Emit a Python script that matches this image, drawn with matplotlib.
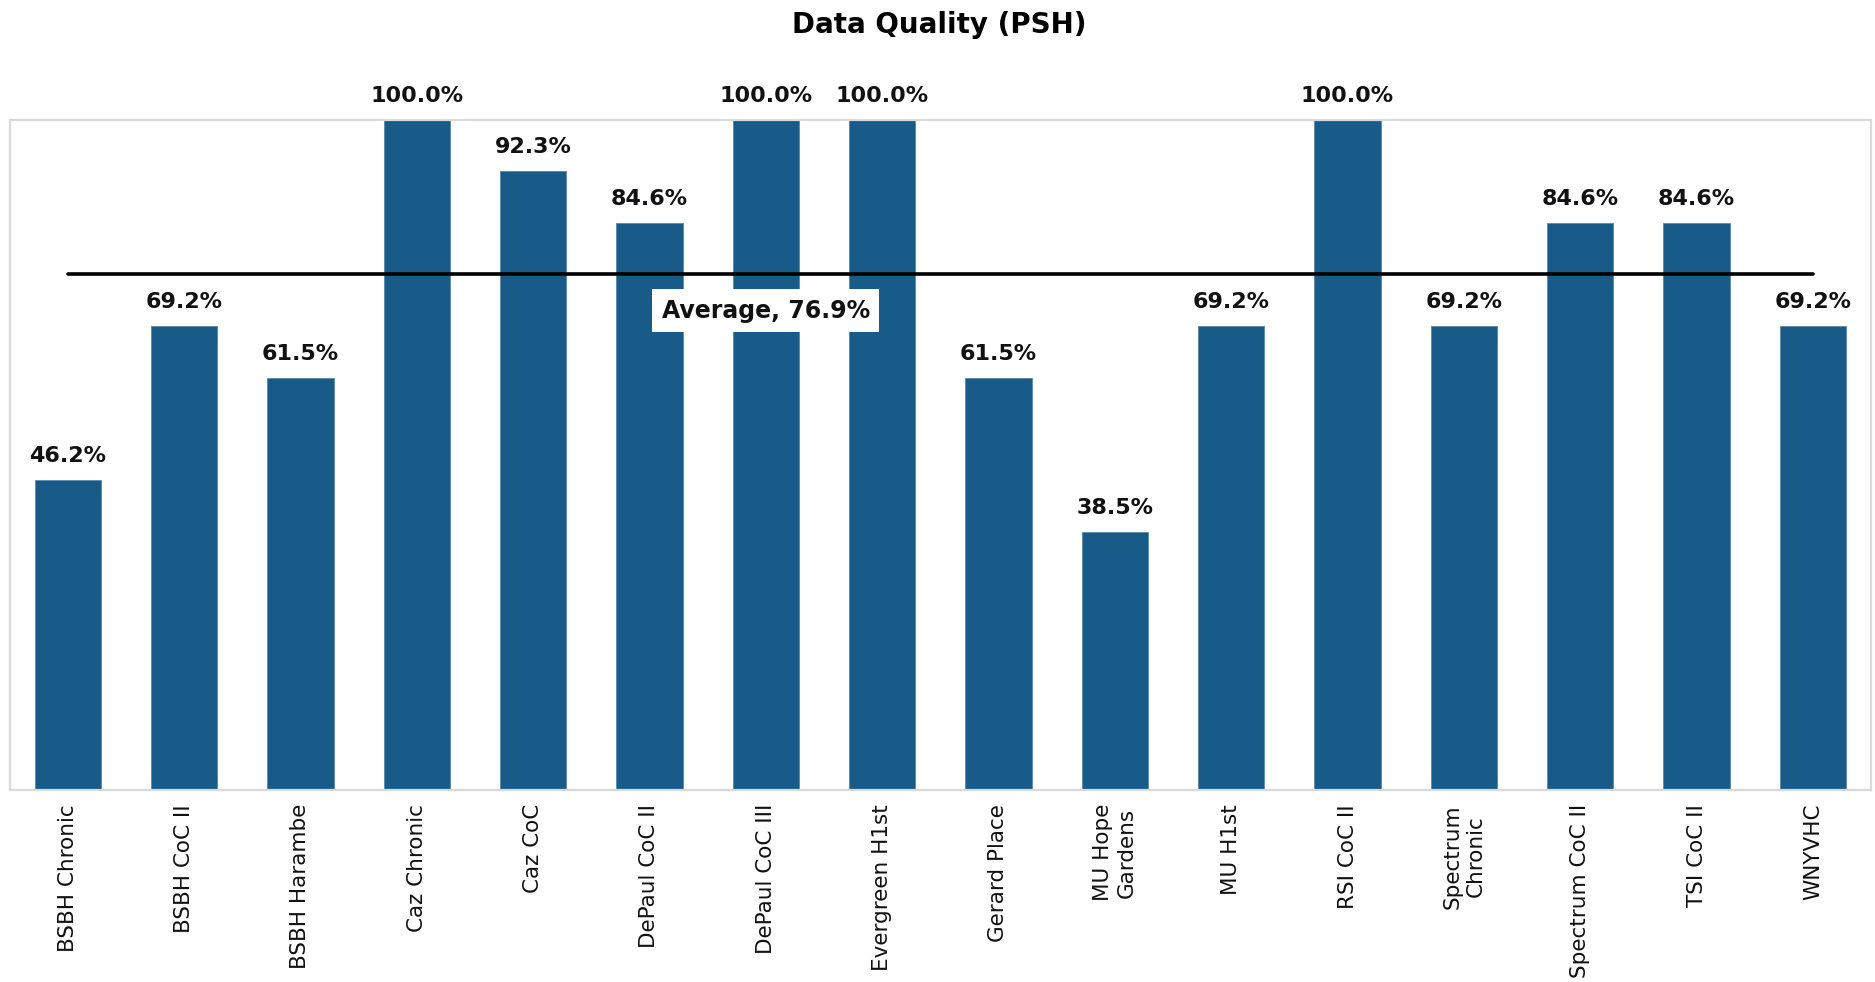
import matplotlib
matplotlib.use("Agg")
import matplotlib.pyplot as plt
import numpy as np

categories = ["BSBH Chronic", "BSBH CoC II", "BSBH Harambe", "Caz Chronic", "Caz CoC",
              "DePaul CoC II", "DePaul CoC III", "Evergreen H1st", "Gerard Place",
              "MU Hope\nGardens", "MU H1st", "RSI CoC II", "Spectrum\nChronic",
              "Spectrum CoC II", "TSI CoC II", "WNYVHC"]
values = [46.2, 69.2, 61.5, 100.0, 92.3, 84.6, 100.0, 100.0, 61.5, 38.5, 69.2, 100.0,
          69.2, 84.6, 84.6, 69.2]
average = 76.9
average_label_index = 6

plt.rcParams['font.family'] = ['DejaVu Sans']
fig = plt.figure(figsize=(18.75, 9.82), dpi=100)
ax = fig.add_axes([0.0051, 0.1955, 0.9928, 0.6827])

x = np.arange(len(categories))
bar_color = "#185b89"
ax.bar(x, values, width=0.57, color=bar_color, edgecolor="#5b87a8", linewidth=0.6, zorder=2)

for xi, v in zip(x, values):
    ax.annotate(f"{v:.1f}%", (xi, v), xytext=(0, 10), textcoords="offset points",
                ha="center", va="bottom", fontsize=16, fontweight="bold", color="#111111",
                annotation_clip=False)

ax.plot([x[0], x[-1]], [average, average], color="black", linewidth=2.6, zorder=3,
        solid_capstyle="round")
ax.text(x[average_label_index], average - 5.4, f"Average, {average:.1f}%", ha="center", va="center",
        fontsize=17, fontweight="bold", color="#111111", zorder=4,
        bbox=dict(facecolor="white", edgecolor="none", boxstyle="square,pad=0.4"))

ax.set_xlim(-0.5, len(categories) - 0.5)
ax.set_ylim(0, 100)
ax.set_yticks([])
ax.set_xticks(x)
ax.set_xticklabels(categories, rotation=90, fontsize=15.5, color="#111111", va="top", ha="center")
ax.tick_params(axis="x", length=0, pad=10)
for s in ax.spines.values():
    s.set_color("#d9d9d9")
    s.set_linewidth(1.6)

fig.suptitle("Data Quality (PSH)", fontsize=20, fontweight="bold", y=0.975, x=0.501, va="center")

fig.savefig("out.png", dpi=100)
